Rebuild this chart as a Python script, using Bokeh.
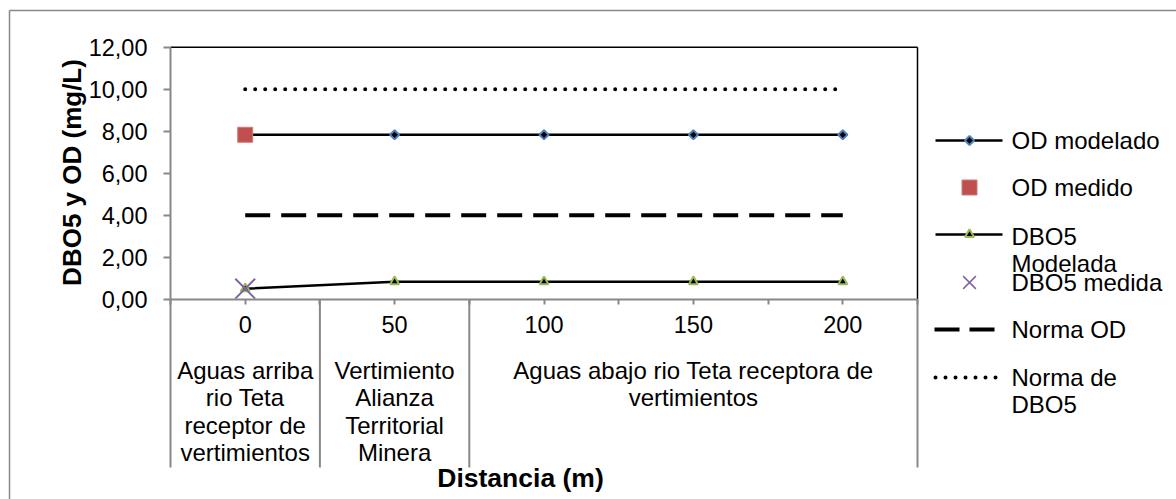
from math import pi
from bokeh.plotting import figure
from bokeh.models import Range1d, LinearAxis, FixedTicker
from bokeh.core.properties import value
from bokeh.embed import file_html
from bokeh.resources import INLINE

# ---------------- data ----------------
distancia = [0, 50, 100, 150, 200]
od_modelado = [7.83, 7.83, 7.83, 7.83, 7.83]
od_medido_x = [0]
od_medido = [7.83]
dbo5_modelada = [0.50, 0.83, 0.83, 0.83, 0.83]
dbo5_medida_x = [0]
dbo5_medida = [0.50]
norma_od = [4, 4, 4, 4, 4]
norma_dbo5 = [10, 10, 10, 10, 10]

y_ticks = [0, 2, 4, 6, 8, 10, 12]
y_tick_labels = ["0,00", "2,00", "4,00", "6,00", "8,00", "10,00", "12,00"]

grupos = ["Aguas arriba\nrio Teta\nreceptor de\nvertimientos",
          "Vertimiento\nAlianza\nTerritorial\nMinera",
          "Aguas abajo rio Teta receptora de\nvertimientos"]
grupo_centro = [0, 50, 150]
grupo_limites = [-25, 25, 75, 225]
limites_menores = [-25, 25, 75, 125, 175, 225]

series = ["OD modelado", "OD medido", "DBO5\nModelada", "DBO5 medida",
          "Norma OD", "Norma de\nDBO5"]

y_title = "DBO5 y OD (mg/L)"
x_title = "Distancia (m)"

# ---------------- layout helpers ----------------
W, H = 1176, 499
OFF = 0  # page offset of the canvas
kx = 747 / 250.0
ky = 21.0
x_start = -25 - (170 - OFF) / kx
x_end = x_start + W / kx
y_end = 12 + (46.7 - OFF) / ky
y_start = y_end - H / ky


def dx(px):
    return x_start + (px - OFF) / kx


def dy(py):
    return y_end - (py - OFF) / ky


FONT_NAME = "Liberation Sans"
FONT = value(FONT_NAME)
TXT = "24px"
GRAY = "#888888"
BLUE = "#4F81BD"
RED = "#C0504D"
GREEN = "#9BBB59"
PURPLE = "#8064A2"

p = figure(width=W, height=H, output_backend="svg", toolbar_location=None,
           x_range=Range1d(x_start, x_end), y_range=Range1d(y_start, y_end),
           x_axis_type=None, y_axis_type=None, min_border=0,
           background_fill_color="white", border_fill_color="white")
p.outline_line_color = None
p.xgrid.visible = False
p.ygrid.visible = False

# outer chart border (left and top visible)
p.line([dx(9), dx(9)], [dy(499), dy(10)], line_color=GRAY, line_width=1.5)
p.line([dx(9), dx(1176)], [dy(10), dy(10)], line_color=GRAY, line_width=1.5)

# plot area border (top, right)
p.line([-25, 225], [12, 12], line_color="black", line_width=1.5)
p.line([225, 225], [0, 12], line_color="black", line_width=1.5)

# category separators below the axis
for b in grupo_limites:
    p.line([b, b], [dy(467), 0], line_color=GRAY, line_width=2)

# ---------------- series ----------------
p.line(distancia, od_modelado, line_color="black", line_width=2.5)
p.scatter(distancia, od_modelado, marker="square", angle=pi / 4, size=6.5,
          fill_color="black", line_color=BLUE, line_width=2)
p.scatter(od_medido_x, od_medido, marker="square", size=15,
          fill_color=RED, line_color="#D07A78", line_width=1)
p.line(distancia, dbo5_modelada, line_color="black", line_width=2.5)
p.scatter(distancia, dbo5_modelada, marker="triangle", size=9,
          fill_color="black", line_color=GREEN, line_width=2)
p.scatter(dbo5_medida_x, dbo5_medida, marker="x", size=28,
          line_color=PURPLE, line_width=2)
p.line(distancia, norma_od, line_color="black", line_width=4,
       line_dash="25 11")
p.line(distancia, norma_dbo5, line_color="black", line_width=4,
       line_dash="0 10", line_cap="round")

# ---------------- axes ----------------
yaxis = LinearAxis(fixed_location=-25, bounds=(0, 12),
                   ticker=FixedTicker(ticks=y_ticks, minor_ticks=[]))
yaxis.major_label_overrides = dict(zip(y_ticks, y_tick_labels))
yaxis.axis_line_color = GRAY
yaxis.axis_line_width = 2
yaxis.major_tick_line_color = GRAY
yaxis.major_tick_line_width = 2
yaxis.major_tick_out = 7
yaxis.major_tick_in = 0
yaxis.minor_tick_line_color = None
yaxis.major_label_standoff = 16
yaxis.major_label_text_font = FONT_NAME
yaxis.major_label_text_font_size = "23.5px"
yaxis.major_label_text_color = "black"
p.add_layout(yaxis, "left")

xaxis = LinearAxis(fixed_location=0, bounds=(-25, 225),
                   ticker=FixedTicker(ticks=distancia,
                                      minor_ticks=limites_menores))
xaxis.axis_line_color = GRAY
xaxis.axis_line_width = 2
xaxis.major_tick_line_color = GRAY
xaxis.major_tick_line_width = 2
xaxis.major_tick_out = 5
xaxis.major_tick_in = 0
xaxis.minor_tick_line_color = GRAY
xaxis.minor_tick_line_width = 2
xaxis.minor_tick_out = 5
xaxis.minor_tick_in = 0
xaxis.major_label_standoff = 12
xaxis.major_label_text_font = FONT_NAME
xaxis.major_label_text_font_size = "23.5px"
xaxis.major_label_text_color = "black"
p.add_layout(xaxis, "below")

# ---------------- group labels ----------------
LINE = 27.3
for g, cx in zip(grupos, grupo_centro):
    for i, t in enumerate(g.split("\n")):
        p.text([cx], [dy(370 + i * LINE)], text=[t], text_font=FONT,
               text_font_size=TXT, text_align="center",
               text_baseline="middle", text_color="black")

# axis titles
p.text([dx(71)], [dy(172)], text=[y_title], angle=pi / 2, text_font=FONT,
       text_font_size="26px", text_font_style="bold", text_align="center",
       text_baseline="middle", text_color="black")
p.text([dx(520)], [dy(477)], text=[x_title], text_font=FONT,
       text_font_size="26.5px", text_font_style="bold", text_align="center",
       text_baseline="middle", text_color="black")

# ---------------- legend ----------------
lx0, lx1, lmx, ltx = dx(935), dx(1002), dx(969), dx(1011)
rows = [140, 187, 234, 282, 329, 377]
text_rows = [140, 187, 236, 282, 329, 377]

r = rows
p.line([lx0, lx1], [dy(r[0])] * 2, line_color="black", line_width=2.5)
p.scatter([lmx], [dy(r[0])], marker="square", angle=pi / 4, size=6.5,
          fill_color="black", line_color=BLUE, line_width=2)
p.scatter([lmx], [dy(r[1])], marker="square", size=15,
          fill_color=RED, line_color="#D07A78", line_width=1)
p.line([lx0, lx1], [dy(r[2])] * 2, line_color="black", line_width=2.5)
p.scatter([lmx], [dy(r[2])], marker="triangle", size=9,
          fill_color="black", line_color=GREEN, line_width=2)
p.scatter([lmx], [dy(r[3])], marker="x", size=18,
          line_color=PURPLE, line_width=1.5)
p.line([dx(934), dx(994)], [dy(r[4])] * 2, line_color="black", line_width=4,
       line_dash="25 10")
p.line([dx(935), dx(997)], [dy(r[5])] * 2, line_color="black", line_width=4,
       line_dash="0 10", line_cap="round")

for name, ty in zip(series, text_rows):
    for i, t in enumerate(name.split("\n")):
        p.text([ltx], [dy(ty + i * 26.5)], text=[t], text_font=FONT,
               text_font_size=TXT, text_align="left",
               text_baseline="middle", text_color="black")

open("out.html", "w").write(file_html(p, INLINE))
